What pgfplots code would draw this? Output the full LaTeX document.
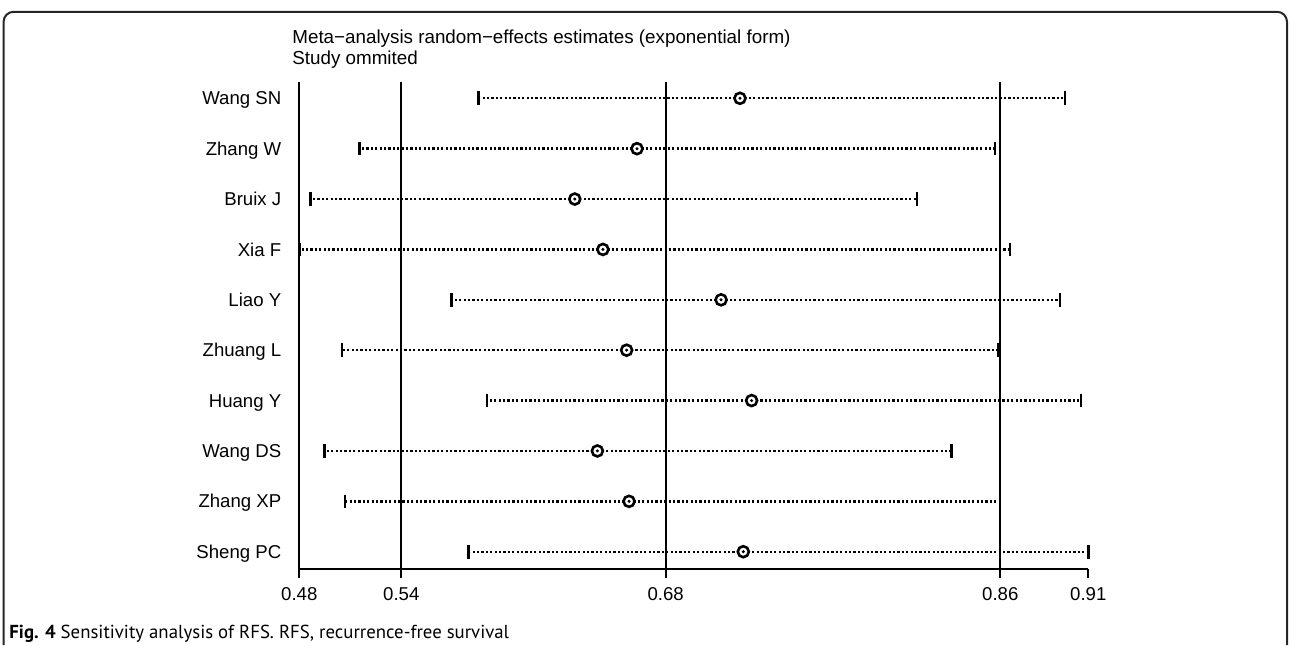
\documentclass[border=0pt]{standalone}
\usepackage{pgfplots}
\pgfplotsset{compat=1.18}
\usepackage{pgfplotstable}
\usepackage{fontspec}
\setmainfont{Liberation Sans}
\newfontfamily\capfont{PT Sans}
\pgfplotstableread{
row lo est hi
10 0.5790 0.7201 0.8956
9 0.5145 0.6645 0.8578
8 0.4883 0.6309 0.8157
7 0.4821 0.6461 0.8659
6 0.5642 0.7099 0.8929
5 0.5052 0.6589 0.8596
4 0.5835 0.7264 0.9043
3 0.4956 0.6431 0.8344
2 0.5068 0.6602 0.8605
1 0.5736 0.7219 0.9082
}\data
\begin{document}
\begin{tikzpicture}[x=1pt,y=1pt]
\useasboundingbox (0,0) rectangle (646,322.5);
\draw[line width=1pt, black!85, rounded corners=5pt] (1.8,0) -- (1.8,316.6) -- (643.5,316.6) -- (643.5,0);
\node[anchor=base west, inner sep=0, font=\fontsize{9.4}{11}\selectfont] at (146,300.85) {Meta−analysis random−effects estimates (exponential form)};
\node[anchor=base west, inner sep=0, font=\fontsize{9.4}{11}\selectfont] at (146,290.35) {Study ommited};
\node[anchor=base west, inner sep=0, font=\capfont\fontsize{9.4}{11}\selectfont] at (4.5,3.5) {\textbf{Fig. 4} Sensitivity analysis of RFS. RFS, recurrence-free survival};
\begin{axis}[
 at={(149.65pt,38pt)}, anchor=south west, scale only axis,
 width=394.5pt, height=243.65pt,
 xmin=0.48214, xmax=0.9082, ymin=0.6566, ymax=10.3295,
 axis x line*=bottom, axis y line*=left,
 axis line style={line width=1pt, -},
 xtick={0.48214,0.5372,0.68,0.8607,0.9082},
 xticklabels={0.48,0.54,0.68,0.86,0.91},
 ytick={1,2,3,4,5,6,7,8,9,10},
 yticklabels={Sheng PC,Zhang XP,Wang DS,Huang Y,Zhuang L,Liao Y,Xia F,Bruix J,Zhang W,Wang SN},
 tick align=outside, major tick length=4.5pt,
 xtick style={line width=1pt, black},
 ytick style={draw=none},
 tick label style={font=\fontsize{9.3}{11}\selectfont},
 xticklabel style={anchor=north, yshift=-1pt},
 yticklabel style={anchor=base east, xshift=-1pt, yshift=-3.3pt},
 /pgf/number format/assume math mode=true,
 clip=false,
]
\draw[line width=1pt] (axis cs:0.5372,0.6566) -- (axis cs:0.5372,10.3295);
\draw[line width=1pt] (axis cs:0.68,0.6566) -- (axis cs:0.68,10.3295);
\draw[line width=1pt] (axis cs:0.8607,0.6566) -- (axis cs:0.8607,10.3295);
\addplot[only marks, mark=none, black, error bars/.cd, x dir=both, x explicit, error mark=none,
  error bar style={line width=1.2pt, dash pattern=on 1.1pt off 1.1pt}]
  table[x=est, y=row, x error plus expr=\thisrow{hi}-\thisrow{est}, x error minus expr=\thisrow{est}-\thisrow{lo}] {\data};
\addplot[only marks, black, mark=|, mark size=3.4pt, mark options={line width=1.35pt}] table[x=lo, y=row] {\data};
\addplot[only marks, black, mark=|, mark size=3.4pt, mark options={line width=1.35pt}] table[x=hi, y=row] {\data};
\addplot[only marks, mark=*, mark size=2.75pt, mark options={draw=black, fill=white, line width=1.3pt}] table[x=est, y=row] {\data};
\addplot[only marks, mark=*, mark size=0.55pt, mark options={draw=none, fill=black}] table[x=est, y=row] {\data};
\end{axis}
\end{tikzpicture}
\end{document}
